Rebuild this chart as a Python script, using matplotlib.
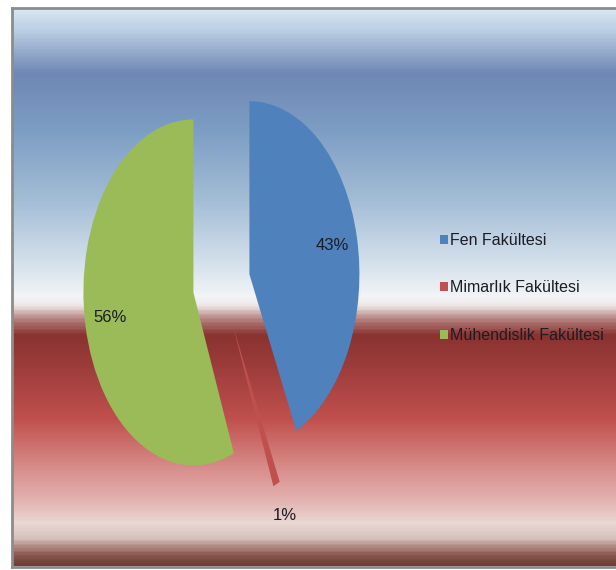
import numpy as np
import matplotlib
matplotlib.use("Agg")
import matplotlib.pyplot as plt
from matplotlib.colors import LinearSegmentedColormap

# data
faculties = ["Fen Fakültesi", "Mimarlık Fakültesi", "Mühendislik Fakültesi"]
shares = [43, 1, 56]
colors = ["#4f81bd", "#c0504d", "#9bbb59"]

W, H = 616, 570
FONT = ["Liberation Sans", "DejaVu Sans"]

fig = plt.figure(figsize=(W / 100, H / 100), dpi=100)
fig.patch.set_facecolor("white")

# background gradient (y measured from top, in px)
stops = [
    (8, "#d8e6f2"), (30, "#b8cde2"), (72, "#6f87b5"), (130, "#7d9ec4"),
    (200, "#a4bdd6"), (260, "#d2dfea"), (296, "#f2f4f7"), (305, "#f0eaea"),
    (318, "#b98a88"), (335, "#8a3331"), (360, "#983a38"), (420, "#c0504d"),
    (470, "#d88e8c"), (500, "#e2b0ae"), (525, "#ead8d4"), (540, "#d6c0bb"),
    (556, "#8d5a52"), (566, "#6e3f38"),
]
y0, y1 = stops[0][0], stops[-1][0]
cmap = LinearSegmentedColormap.from_list(
    "bg", [((y - y0) / (y1 - y0), c) for y, c in stops])
bg = fig.add_axes([13 / W, 1 - y1 / H, 1 - 13 / W, (y1 - y0) / H])
bg.imshow(np.linspace(0, 1, 400).reshape(-1, 1), aspect="auto", cmap=cmap,
          extent=[0, 1, 1, 0])
bg.set_xlim(0, 1)
bg.set_ylim(1, 0)
bg.axis("off")

# frame border
frame = fig.add_axes([12 / W, 1 - 567 / H, 1 - 12 / W + 0.01, 559 / H])
frame.patch.set_visible(False)
frame.set_xticks([])
frame.set_yticks([])
for side in frame.spines.values():
    side.set_color("#8c8c8c")
    side.set_linewidth(2)

# pie (elliptical: rx 110 px, ry 173 px, centre at 221.5, 284 from top)
rx, ry, cx, cy = 110, 173, 221.5, 284
ax = fig.add_axes([(cx - 1.5 * rx) / W, 1 - (cy + 1.5 * ry) / H,
                   3 * rx / W, 3 * ry / H])
wedges, texts, autotexts = ax.pie(
    shares, colors=colors, startangle=90, counterclock=False,
    explode=[0.26, 0.26, 0.26], autopct="%1.0f%%", pctdistance=0.77,
    wedgeprops=dict(linewidth=0),
    textprops=dict(fontsize=12, color="#1c1c24", family=FONT))
ax.set_aspect("auto")
ax.set_xlim(-1.5, 1.5)
ax.set_ylim(-1.5, 1.5)
ax.axis("off")
ax.patch.set_visible(False)

# small slice label outside the pie
w = wedges[1]
mid = np.deg2rad((w.theta1 + w.theta2) / 2)
autotexts[1].set_position((w.center[0] + 1.2 * np.cos(mid),
                           w.center[1] + 1.2 * np.sin(mid)))

fig.legend(wedges, faculties, loc="center left",
           bbox_to_anchor=(440 / W, 1 - 288 / H), frameon=False,
           prop=dict(family=FONT, size=11.5), labelcolor="#1c1c24",
           handlelength=0.5, handleheight=0.5, handletextpad=0.15,
           labelspacing=2.05, borderpad=0, borderaxespad=0)

fig.savefig("out.png", dpi=100)
